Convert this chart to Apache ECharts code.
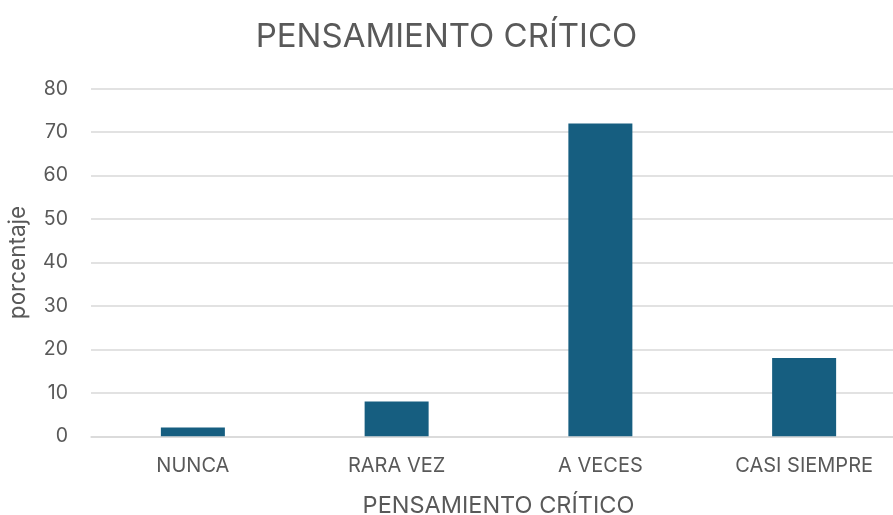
<!DOCTYPE html>
<html>
<head>
<meta charset="utf-8">
<script src="https://cdn.jsdelivr.net/npm/echarts@6/dist/echarts.min.js"></script>
<style>
  html, body { margin: 0; padding: 0; background: #ffffff; }
  #chart { width: 893px; height: 515px; }
</style>
</head>
<body>
<div id="chart"></div>
<script>
// Frecuencia de respuestas (porcentaje)
const categories = ['NUNCA', 'RARA VEZ', 'A VECES', 'CASI SIEMPRE'];
const values = [2, 8, 72, 18];
const yTicks = { min: 0, max: 80, interval: 10 };

const FONT = 'Inter, "Open Sans", "Liberation Sans", sans-serif';
const TEXT = '#595959';

const chart = echarts.init(document.getElementById('chart'), null, { renderer: 'canvas' });
chart.setOption({
  animation: false,
  backgroundColor: '#ffffff',
  title: {
    text: 'PENSAMIENTO CRÍTICO',
    left: 'center',
    top: 16,
    textStyle: { fontFamily: FONT, fontSize: 33, fontWeight: 'normal', color: TEXT }
  },
  // the plot runs a little past the right edge of the canvas
  grid: {
    left: 91, width: 815, top: 88.7, bottom: 515 - 436.3,
    containLabel: false, outerBoundsMode: 'none'
  },
  xAxis: {
    type: 'category',
    data: categories,
    name: 'PENSAMIENTO CRÍTICO',
    nameLocation: 'middle',
    nameGap: 58,
    nameTextStyle: { fontFamily: FONT, fontSize: 23.5, color: TEXT },
    axisLine: { show: true, lineStyle: { color: '#d9d9d9', width: 1.5 } },
    axisTick: { show: false },
    axisLabel: { fontFamily: FONT, fontSize: 20, color: TEXT, margin: 20 }
  },
  yAxis: {
    type: 'value',
    min: yTicks.min,
    max: yTicks.max,
    interval: yTicks.interval,
    name: 'porcentaje',
    nameLocation: 'middle',
    nameGap: 61,
    nameTextStyle: { fontFamily: FONT, fontSize: 22.5, color: TEXT },
    axisLine: { show: false },
    axisTick: { show: false },
    axisLabel: { fontFamily: FONT, fontSize: 19.5, color: TEXT, margin: 23 },
    splitLine: { show: true, lineStyle: { color: '#d9d9d9', width: 1.5 } }
  },
  series: [{
    type: 'bar',
    data: values,
    barWidth: 64,
    itemStyle: { color: '#165E80' }
  }]
});
</script>
</body>
</html>
